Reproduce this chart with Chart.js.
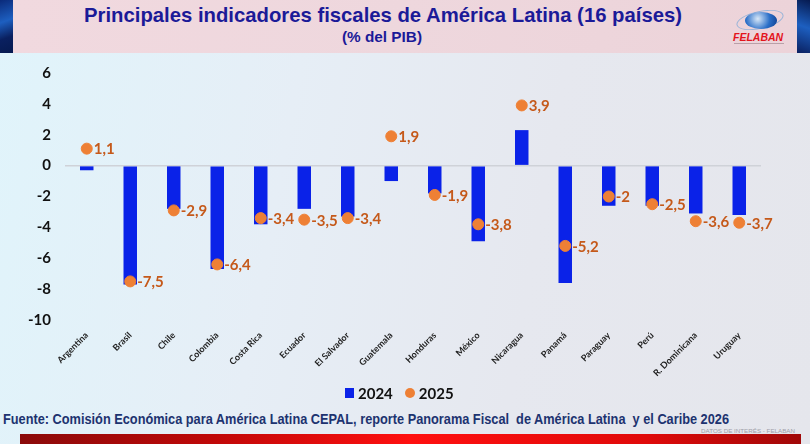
<!DOCTYPE html>
<html><head><meta charset="utf-8">
<script src="https://cdn.jsdelivr.net/npm/chart.js@4.4.1/dist/chart.umd.min.js"></script>
<style>
html,body{margin:0;padding:0;}
body{width:810px;height:444px;position:relative;overflow:hidden;font-family:Lato,'Open Sans',sans-serif;
background:linear-gradient(100deg,#e0f4fb 0%,#e6eef6 35%,#e6e8ef 65%,#e5e6ec 100%);}
#lstrip{position:absolute;left:0;top:0;width:13px;height:53px;background:linear-gradient(160deg,#0a2a7a,#1d5fc0 40%,#0a2060 70%,#061a50);}
#rstrip{position:absolute;left:797px;top:0;width:13px;height:53px;background:linear-gradient(200deg,#061a50,#1d5fc0 50%,#0a2060);}
#header{position:absolute;left:13px;top:0;width:784px;height:53px;background:linear-gradient(90deg,#f1d9df,#eed7dd 50%,#ecd3d9);}
.fit{position:absolute;white-space:pre;transform-origin:0 0;}
#title{top:3px;font-family:'Liberation Sans Narrow','Liberation Sans',Arial,sans-serif;font-weight:bold;font-size:21px;color:#1b1a98;}
#subtitle{top:28px;font-family:'Liberation Sans Narrow','Liberation Sans',Arial,sans-serif;font-weight:bold;font-size:15px;color:#1b1a98;}
#globe{position:absolute;left:745px;top:12px;width:32px;height:17px;border-radius:50%;background:radial-gradient(circle at 40% 40%,#d8e8f8,#2a6fc8 55%,#0d3c8c);}
#orbit{position:absolute;left:736px;top:11px;width:46px;height:16px;border-radius:50%;border:1px solid #9ab4d8;transform:rotate(-12deg);}
#felaban{position:absolute;left:733px;top:31px;font-family:'Liberation Sans',Arial,sans-serif;font-style:italic;font-weight:bold;font-size:10.5px;color:#e3141c;}
#felsub{position:absolute;left:734px;top:43px;width:50px;height:1px;background:#b9a0a8;}
#wrap{position:absolute;left:0;top:50px;width:810px;height:340px;}
#legend{position:absolute;left:345px;top:382px;height:18px;font-weight:bold;font-size:15px;color:#111;line-height:18px;white-space:nowrap;}
#legend span{display:inline-block;vertical-align:middle;}
#lg1{width:9px;height:10px;background:#0a22e8;margin-right:4px;}
#lg2{width:10px;height:10px;border-radius:50%;background:#ee8035;margin-left:12px;margin-right:4px;}
#source{top:411px;font-family:'Liberation Sans Narrow','Liberation Sans',Arial,sans-serif;font-weight:bold;font-size:14.5px;color:#1d3370;}
#datos{top:428px;font-family:'Liberation Sans Narrow',Arial,sans-serif;font-size:6px;color:#a0a0a8;}
#redbar{position:absolute;left:20px;top:434px;width:781px;height:10px;background:linear-gradient(90deg,#8a0a0a,#c00808 25%,#ff1010 50%,#e00a0a 80%,#a00808);}
</style></head>
<body>
<div id="lstrip"></div><div id="header"></div><div id="rstrip"></div>
<div id="title" class="fit">Principales indicadores fiscales de América Latina (16 países)</div>
<div id="subtitle" class="fit">(% del PIB)</div>
<div id="orbit"></div><div id="globe"></div>
<div id="felaban">FELABAN</div><div id="felsub"></div>
<div id="wrap"><canvas id="c"></canvas></div>
<div id="legend"><span id="lg1"></span><span>2024</span><span id="lg2"></span><span>2025</span></div>
<div id="source" class="fit">Fuente: Comisión Económica para América Latina CEPAL, reporte Panorama Fiscal  de América Latina  y el Caribe 2026</div>
<div id="datos" class="fit">DATOS DE INTERÉS - FELABAN</div>
<div id="redbar"></div>
<script>
const categories = ["Argentina","Brasil","Chile","Colombia","Costa Rica","Ecuador","El Salvador","Guatemala","Honduras","México","Nicaragua","Panamá","Paraguay","Perú","R. Dominicana","Uruguay"];
const values2024 = [-0.3,-7.7,-2.8,-6.7,-3.8,-2.8,-3.3,-1.0,-1.8,-4.9,2.3,-7.6,-2.6,-2.6,-3.1,-3.2];
const values2025 = [1.1,-7.5,-2.9,-6.4,-3.4,-3.5,-3.4,1.9,-1.9,-3.8,3.9,-5.2,-2,-2.5,-3.6,-3.7];
const yTicks = [6,4,2,0,-2,-4,-6,-8,-10];

function fit(id,left,width){
  const el=document.getElementById(id);
  const w=el.getBoundingClientRect().width;
  el.style.left=left+'px';
  el.style.transform='scaleX('+(width/w)+')';
}
fit('title',84,598);
fit('subtitle',342,80);
fit('source',3,726);
fit('datos',701,94);

Chart.defaults.font.family = "Lato, 'Open Sans', sans-serif";

const pointLabels = {
  id:'pointLabels',
  afterDatasetsDraw(chart){
    const meta = chart.getDatasetMeta(1);
    const ctx = chart.ctx;
    ctx.save();
    ctx.font = "bold 15px Lato, 'Open Sans', sans-serif";
    ctx.fillStyle = '#c5591a';
    ctx.textAlign = 'left';
    ctx.textBaseline = 'middle';
    meta.data.forEach((pt,i)=>{
      const v = values2025[i];
      ctx.fillText(String(v).replace('.',','), pt.x+7, pt.y+1);
    });
    ctx.restore();
  }
};

new Chart(document.getElementById('c'),{
  data:{
    labels:categories,
    datasets:[
      {type:'bar',label:'2024',data:values2024,backgroundColor:'#0a22e8',barPercentage:0.31,categoryPercentage:1,order:2},
      {type:'line',label:'2025',data:values2025,showLine:false,pointRadius:5.5,pointHoverRadius:5.5,pointBackgroundColor:'#ee8035',pointBorderColor:'#ee8035',backgroundColor:'#ee8035',borderColor:'#ee8035',order:1,pointStyle:'circle'}
    ]
  },
  options:{
    responsive:true,maintainAspectRatio:false,animation:false,
    layout:{padding:{top:18,right:49,left:0,bottom:8}},
    plugins:{legend:{display:false},tooltip:{enabled:false}},
    scales:{
      x:{grid:{display:false},border:{display:false},
         ticks:{minRotation:45,maxRotation:45,autoSkip:false,color:'#222',font:{size:9,weight:'bold'},padding:2},
         afterFit(s){s.height=62;}},
      y:{min:-10,max:6,
         afterBuildTicks(s){s.ticks = yTicks.map(v=>({value:v}));},
         afterFit(s){s.width=65;},
         grid:{color:(c)=>c.tick && c.tick.value===0?'#cfd2d8':'rgba(0,0,0,0)',lineWidth:1.5,drawTicks:false},
         border:{display:false},
         ticks:{color:'#111',font:{size:15,weight:'bold'},padding:14}}
    }
  },
  plugins:[pointLabels]
});
</script>
</body></html>
